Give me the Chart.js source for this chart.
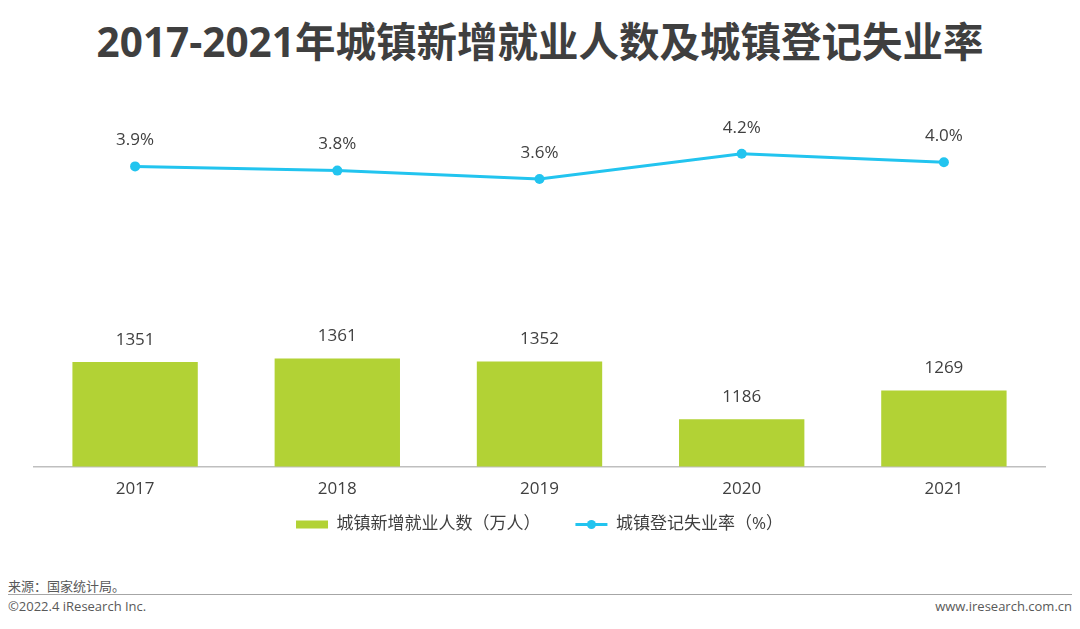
<!DOCTYPE html>
<html>
<head>
<meta charset="utf-8">
<script src="https://cdn.jsdelivr.net/npm/chart.js@4/dist/chart.umd.min.js"></script>
<style>
  body { margin: 0; width: 1080px; height: 629px; background: #fff; position: relative; overflow: hidden;
         font-family: "Open Sans", "Noto Sans CJK SC", sans-serif; color: #404040; }
  #title { position: absolute; top: 20px; left: 0; width: 1080px; text-align: center;
           font-size: 40.5px; line-height: 44px; font-weight: bold; color: #3f3f3f; }
  #box { position: absolute; left: 0; top: 100px; width: 1080px; height: 451px; }
  .foot { position: absolute; font-size: 13px; color: #595959; }
  #rule { position: absolute; left: 8px; top: 594px; width: 1064px; height: 1px; background: #a6a6a6; }
</style>
</head>
<body>
<div id="title">2017-2021年城镇新增就业人数及城镇登记失业率</div>
<div id="box"><canvas id="chart"></canvas></div>
<div class="foot" style="left:8px;top:576px;">来源：国家统计局。</div>
<div id="rule"></div>
<div class="foot" style="left:8px;top:597px;">©2022.4 iResearch Inc.</div>
<div class="foot" style="right:8px;top:597px;">www.iresearch.com.cn</div>
<script>
const years = ["2017", "2018", "2019", "2020", "2021"];
const newJobs = [1351, 1361, 1352, 1186, 1269];
const jobRate = [3.9, 3.8, 3.6, 4.2, 4.0];

const green = "#b2d235";
const cyan = "#22c4ef";

// value labels above bars and points, plus the dot on the line legend item
const valueLabels = {
	id: "valueLabels",
	afterDatasetsDraw(chart) {
		const ctx = chart.ctx;
		ctx.save();
		ctx.font = "17px 'Open Sans', 'Noto Sans CJK SC'";
		ctx.fillStyle = "#404040";
		ctx.textAlign = "center";
		ctx.textBaseline = "middle";
		chart.data.datasets.forEach((ds, i) => {
			const meta = chart.getDatasetMeta(i);
			meta.data.forEach((el, j) => {
				const txt = ds.type === "line" ? ds.data[j].toFixed(1) + "%" : String(ds.data[j]);
				const off = ds.type === "line" ? 26 : 22;
				ctx.fillText(txt, el.x, el.y - off);
			});
		});
		ctx.restore();
	},
	afterDraw(chart) {
		const hb = chart.legend && chart.legend.legendHitBoxes[1];
		if (!hb) return;
		const ctx = chart.ctx;
		ctx.save();
		ctx.fillStyle = cyan;
		ctx.beginPath();
		ctx.arc(hb.left + 16, hb.top + hb.height / 2, 4.5, 0, Math.PI * 2);
		ctx.fill();
		ctx.restore();
	}
};

new Chart(document.getElementById("chart"), {
	data: {
		labels: years,
		datasets: [
			{
				type: "line",
				label: "城镇登记失业率（%）",
				data: jobRate,
				yAxisID: "yRate",
				borderColor: cyan,
				backgroundColor: cyan,
				borderWidth: 3,
				pointRadius: 5,
				pointBackgroundColor: cyan,
				pointBorderWidth: 0,
				order: 0
			},
			{
				type: "bar",
				label: "城镇新增就业人数（万人）",
				data: newJobs,
				yAxisID: "yJobs",
				backgroundColor: green,
				categoryPercentage: 1,
				barPercentage: 0.62,
				order: 1
			}
		]
	},
	options: {
		responsive: true,
		maintainAspectRatio: false,
		animation: false,
		layout: { padding: { left: 34, right: 35, top: 0, bottom: 8 } },
		plugins: {
			tooltip: { enabled: false },
			legend: {
				position: "bottom",
				labels: {
					font: { size: 17, family: "'Open Sans', 'Noto Sans CJK SC'" },
					color: "#404040",
					usePointStyle: true,
					boxHeight: 8,
					pointStyleWidth: 32,
					padding: 5,
					generateLabels(chart) {
						// bar first, then line, like the reference
						return [1, 0].map((i) => {
							const ds = chart.data.datasets[i];
							const isLine = ds.type === "line";
							return {
								text: isLine ? ds.label : ds.label + "\u3000\u3000 ",
								datasetIndex: i,
								fillStyle: isLine ? cyan : green,
								strokeStyle: isLine ? cyan : green,
								lineWidth: isLine ? 3 : 0,
								pointStyle: isLine ? "line" : "rect",
								fontColor: "#404040"
							};
						});
					}
				}
			}
		},
		scales: {
			x: {
				grid: { display: false, drawTicks: false },
				border: { display: true, color: "#bfbfbf", width: 1.5 },
				ticks: { color: "#404040", font: { size: 17, family: "'Open Sans'" }, padding: 12 }
			},
			yJobs: {
				display: false,
				min: 1050,
				max: 2090
			},
			yRate: {
				display: false,
				min: -3.24,
				max: 5.36
			}
		}
	},
	plugins: [valueLabels]
});
</script>
</body>
</html>
